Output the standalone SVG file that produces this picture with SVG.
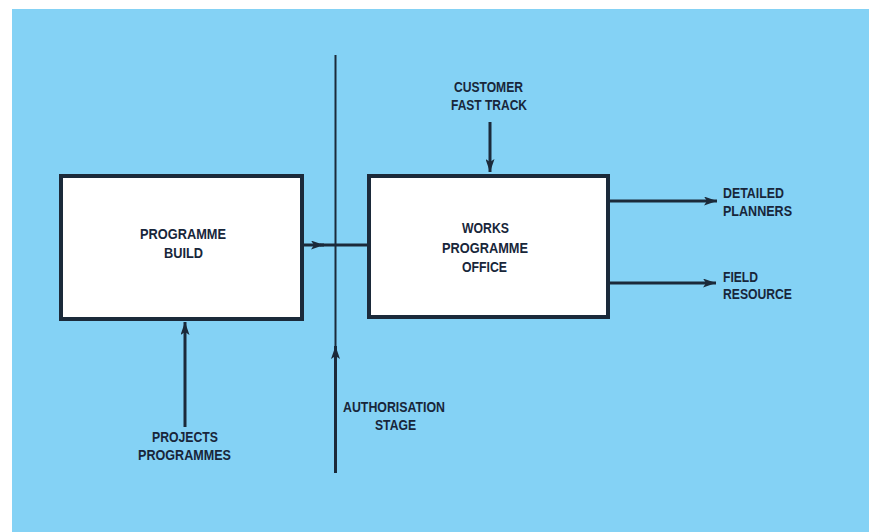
<svg xmlns="http://www.w3.org/2000/svg" width="869" height="532" viewBox="0 0 869 532">
  <defs>
    <marker id="arrow" markerWidth="14" markerHeight="9" refX="13" refY="4.5" orient="auto" markerUnits="userSpaceOnUse">
      <path d="M0,0 L13,4.5 L0,9 L3,4.5 Z" fill="#1b2a3a"/>
    </marker>
    <style>
      .box { fill: #ffffff; stroke: #1b2a3a; stroke-width: 4; }
      .flow { fill: none; stroke: #1b2a3a; stroke-width: 3; }
      .divider { fill: none; stroke: #1b2a3a; stroke-width: 2; }
      .label { font-family: "Liberation Sans", Arial, sans-serif; font-weight: bold; font-size: 15.5px; fill: #18263a; }
      .mid { text-anchor: middle; }
    </style>
  </defs>

  <!-- page and panel -->
  <rect x="0" y="0" width="869" height="532" fill="#ffffff"/>
  <rect x="12" y="9" width="857" height="523" fill="#84d2f5"/>

  <!-- connectors -->
  <g id="connectors">
    <line class="divider" x1="335.5" y1="55" x2="335.5" y2="473"/>
    <line class="flow" x1="335.5" y1="473" x2="335.5" y2="346" marker-end="url(#arrow)" stroke-width="2"/>
    <line class="flow" x1="304" y1="245" x2="324" y2="245" marker-end="url(#arrow)"/>
    <line class="flow" x1="320" y1="245" x2="367" y2="245"/>
    <line class="flow" x1="185" y1="427" x2="185" y2="322" marker-end="url(#arrow)"/>
    <line class="flow" x1="490" y1="122" x2="490" y2="172" marker-end="url(#arrow)"/>
    <line class="flow" x1="610" y1="201" x2="717" y2="201" marker-end="url(#arrow)"/>
    <line class="flow" x1="610" y1="283" x2="716" y2="283" marker-end="url(#arrow)"/>
  </g>

  <g id="programme-build">
    <rect class="box" x="61" y="176" width="241" height="143"/>
    <text class="label mid" x="183" y="239" textLength="86" lengthAdjust="spacingAndGlyphs">PROGRAMME</text>
    <text class="label mid" x="183.5" y="258" textLength="39" lengthAdjust="spacingAndGlyphs">BUILD</text>
  </g>

  <g id="works-programme-office">
    <rect class="box" x="369" y="176" width="239" height="141"/>
    <text class="label mid" x="485.5" y="233" textLength="47" lengthAdjust="spacingAndGlyphs">WORKS</text>
    <text class="label mid" x="485" y="253" textLength="86" lengthAdjust="spacingAndGlyphs">PROGRAMME</text>
    <text class="label mid" x="484.5" y="272" textLength="45" lengthAdjust="spacingAndGlyphs">OFFICE</text>
  </g>

  <g id="customer-fast-track">
    <text class="label mid" x="488.5" y="92" textLength="69" lengthAdjust="spacingAndGlyphs">CUSTOMER</text>
    <text class="label mid" x="489" y="110" textLength="76" lengthAdjust="spacingAndGlyphs">FAST TRACK</text>
  </g>

  <g id="detailed-planners">
    <text class="label" x="723" y="198" textLength="61" lengthAdjust="spacingAndGlyphs">DETAILED</text>
    <text class="label" x="723" y="216" textLength="69" lengthAdjust="spacingAndGlyphs">PLANNERS</text>
  </g>

  <g id="field-resource">
    <text class="label" x="723" y="282" textLength="35" lengthAdjust="spacingAndGlyphs">FIELD</text>
    <text class="label" x="723" y="299" textLength="69" lengthAdjust="spacingAndGlyphs">RESOURCE</text>
  </g>

  <g id="projects-programmes">
    <text class="label mid" x="185" y="442" textLength="66" lengthAdjust="spacingAndGlyphs">PROJECTS</text>
    <text class="label mid" x="184.5" y="460" textLength="93" lengthAdjust="spacingAndGlyphs">PROGRAMMES</text>
  </g>

  <g id="authorisation-stage">
    <text class="label mid" x="394" y="412" textLength="102" lengthAdjust="spacingAndGlyphs">AUTHORISATION</text>
    <text class="label mid" x="395.5" y="430" textLength="41" lengthAdjust="spacingAndGlyphs">STAGE</text>
  </g>
</svg>
